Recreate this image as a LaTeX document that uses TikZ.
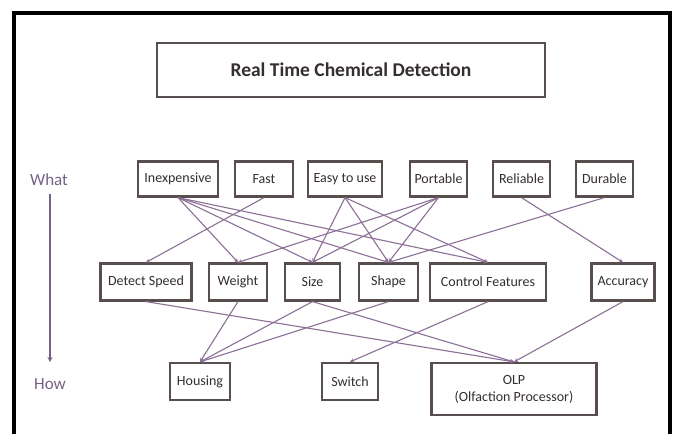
\documentclass[tikz,border=0pt]{standalone}
\usepackage{fontspec}
\setmainfont{Carlito}
\usetikzlibrary{arrows.meta}
\definecolor{boxline}{RGB}{88,78,78}
\definecolor{linkcol}{RGB}{140,112,150}
\definecolor{axiscol}{RGB}{118,98,134}
\definecolor{labeltext}{RGB}{52,46,46}
\begin{document}
\begin{tikzpicture}[x=1pt,y=-1pt,
  box/.style={draw=boxline, line width=2.2pt, fill=white, inner sep=0pt,
    text=labeltext, font=\fontsize{14}{17}\selectfont, minimum height=35pt},
  link/.style={draw=linkcol, line width=1.1pt, -{Stealth[length=4pt,width=4pt]}},
  axislabel/.style={text=axiscol, font=\fontsize{17}{19}\selectfont, inner sep=0pt},
  frameline/.style={draw=black, line width=4pt}]
% canvas and outer frame
\fill[white] (0,0) rectangle (680,434);
\useasboundingbox (0,0) rectangle (680,434);
\draw[frameline] (14,434) -- (14,13) -- (670,13) -- (670,434);

% title
\node[box, minimum width=388pt, minimum height=54pt,
      font=\fontsize{19.5}{22}\selectfont\bfseries] (title) at (351,70) {Real Time Chemical Detection};

% what / how axis
\node[axislabel] (what) at (49,180) {What};
\node[axislabel] (how) at (50,384) {How};
\draw[draw=axiscol, line width=1.8pt, -{Stealth[length=5pt,width=5pt]}] (what.south) ++(1,8) coordinate (axstart) -- (50,362) coordinate (axend);

% requirements (what)
\node[box, minimum width=80pt] (inexp) at (178,179) {Inexpensive};
\node[box, minimum width=58pt] (fast) at (264,179) {Fast};
\node[box, minimum width=74pt] (easy) at (345,179) {Easy to use};
\node[box, minimum width=57pt] (port) at (438.5,179) {Portable};
\node[box, minimum width=57pt] (reli) at (521.5,179) {Reliable};
\node[box, minimum width=57pt] (dura) at (604.5,179) {Durable};

% characteristics
\node[box, minimum width=91pt, minimum height=37pt] (detect) at (146,282) {Detect Speed};
\node[box, minimum width=58pt, minimum height=37pt] (weight) at (238,282) {Weight};
\node[box, minimum width=55pt, minimum height=37pt] (size) at (312.5,282) {Size};
\node[box, minimum width=59pt, minimum height=37pt] (shape) at (388.5,282) {Shape};
\node[box, minimum width=116pt, minimum height=37pt] (control) at (488,282) {Control Features};
\node[box, minimum width=63pt, minimum height=37pt] (accur) at (623,282) {Accuracy};

% components (how)
\node[box, minimum width=60pt, minimum height=37pt] (housing) at (200,381.5) {Housing};
\node[box, minimum width=56pt, minimum height=37pt] (switch) at (350,381.5) {Switch};
\node[box, minimum width=165pt, minimum height=52pt, align=center] (olp) at (514,389) {OLP\\(Olfaction Processor)};

% what -> characteristics
\draw[link] (inexp.south) -- (weight.north);
\draw[link] (inexp.south) -- (size.north);
\draw[link] (inexp.south) -- (shape.north);
\draw[link] (inexp.south) -- (control.north);
\draw[link] (fast.south) -- (detect.north);
\draw[link] (easy.south) -- (size.north);
\draw[link] (easy.south) -- (shape.north);
\draw[link] (easy.south) -- (control.north);
\draw[link] (port.south) -- (weight.north);
\draw[link] (port.south) -- (size.north);
\draw[link] (port.south) -- (shape.north);
\draw[link] (reli.south) -- (accur.north);
\draw[link] (dura.south) -- (shape.north);

% characteristics -> how
\draw[link] (weight.south) -- (housing.north);
\draw[link] (size.south) -- (housing.north);
\draw[link] (shape.south) -- (housing.north);
\draw[link] (detect.south) -- (olp.north);
\draw[link] (size.south) -- (olp.north);
\draw[link] (control.south) -- (switch.north);
\draw[link] (accur.south) -- (olp.north);
\end{tikzpicture}
\end{document}
